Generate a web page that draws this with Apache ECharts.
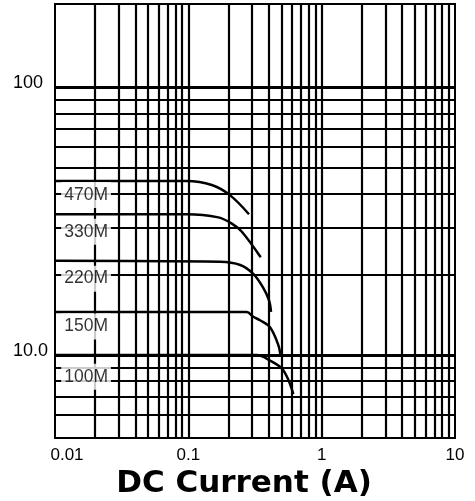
<!DOCTYPE html>
<html>
<head>
<meta charset="utf-8">
<script src="https://cdn.jsdelivr.net/npm/echarts@6/dist/echarts.min.js"></script>
<style>
  html, body { margin: 0; padding: 0; background: #fff; }
  #chart { width: 475px; height: 501px; }
</style>
</head>
<body>
<div id="chart"></div>
<script>
// inductance vs DC current curves, [current A, value]
const curve470M = [[0.01, 44.7], [0.097, 44.7], [0.15, 43.2], [0.205, 39.6], [0.285, 33.6]];
const curve330M = [[0.01, 33.6], [0.097, 33.6], [0.168, 32.7], [0.212, 31.0], [0.252, 28.9], [0.349, 23.2]];
const curve220M = [[0.01, 22.5], [0.173, 22.3], [0.245, 21.7], [0.307, 20.1], [0.363, 17.9], [0.403, 16.0], [0.417, 14.5]];
const curve150M = [[0.01, 14.5], [0.274, 14.5], [0.307, 13.9], [0.345, 13.5], [0.41, 12.7], [0.473, 10.9], [0.492, 9.9]];
const curve100M = [[0.01, 10], [0.326, 10], [0.41, 9.54], [0.502, 8.92], [0.563, 8.07], [0.613, 7.15]];

const curveNames = ["470M", "330M", "220M", "150M", "100M"];
const curves = [curve470M, curve330M, curve220M, curve150M, curve100M];

// where the part labels sit on the chart
const labelX = [0.0171, 0.0171, 0.0171, 0.0171, 0.0171];
const labelY = [39.6, 28.9, 19.3, 12.8, 8.3];

// log grid lines
const xGrid = [0.02, 0.03, 0.04, 0.05, 0.06, 0.07, 0.08, 0.09, 0.1,
  0.2, 0.3, 0.4, 0.5, 0.6, 0.7, 0.8, 0.9, 1,
  2, 3, 4, 5, 6, 7, 8, 9];
const yGrid = [6, 7, 8, 9, 10, 20, 30, 40, 50, 60, 70, 80, 90, 100];
const yMajor = [10, 100];

const near = (a, b) => Math.abs(a - b) < 1e-6 * b;
const FONT = "Liberation Sans";

const chart = echarts.init(document.getElementById("chart"));

const gridLines = [
  ...xGrid.map(v => ({ xAxis: v })),
  ...yGrid.map(v => ({
    yAxis: v,
    lineStyle: { width: yMajor.includes(v) ? 3 : 2.2 }
  }))
];

const option = {
  animation: false,
  grid: {
    left: 55, right: 20, top: 4, bottom: 63,
    outerBoundsMode: "none",
    containLabel: false,
    show: true, borderColor: "#000", borderWidth: 2
  },
  xAxis: {
    type: "log",
    min: 0.01,
    max: 10,
    name: "DC Current (A)",
    nameLocation: "middle",
    nameGap: 28,
    nameTextStyle: {
      fontFamily: "DejaVu Sans", fontWeight: "bold", fontSize: 31,
      color: "#000", padding: [0, 22, 0, 0]
    },
    axisLine: { lineStyle: { color: "#000", width: 2 } },
    axisTick: { show: false },
    splitLine: { show: false },
    axisLabel: {
      color: "#000", fontSize: 17, fontFamily: FONT, margin: 9,
      formatter: v => near(v, 0.01) ? "{a|0.01}" : String(+v.toPrecision(3)),
      rich: { a: { padding: [0, 0, 0, 24], fontSize: 17, fontFamily: FONT, color: "#000" } }
    }
  },
  yAxis: {
    type: "log",
    min: 4.9,
    max: 205,
    axisLine: { lineStyle: { color: "#000", width: 2 } },
    axisTick: { show: false },
    splitLine: { show: false },
    axisLabel: {
      color: "#000", fontSize: 18, fontFamily: FONT, margin: 7,
      formatter: v => near(v, 100) ? "{h|100}" : near(v, 10) ? "{t|10.0}" : "",
      rich: {
        h: { padding: [0, 5, 8, 0], fontSize: 18, fontFamily: FONT, color: "#000" },
        t: { padding: [0, 0, 8, 0], fontSize: 18, fontFamily: FONT, color: "#000" }
      }
    }
  },
  series: [
    {
      name: "grid",
      type: "line",
      data: [],
      silent: true,
      markLine: {
        silent: true,
        symbol: "none",
        label: { show: false },
        lineStyle: { color: "#000", type: "solid", width: 2.2 },
        data: gridLines
      }
    },
    ...curves.map((c, i) => ({
      name: curveNames[i],
      type: "line",
      data: c,
      smooth: 0.35,
      symbol: "none",
      lineStyle: { color: "#000", width: 2.5 },
      z: 3
    })),
    {
      name: "labels",
      type: "scatter",
      data: curveNames.map((n, i) => ({ name: n, value: [labelX[i], labelY[i]] })),
      symbolSize: 0,
      z: 5,
      label: {
        show: true,
        position: "inside",
        formatter: "{b}",
        color: "#000",
        fontSize: 17.5,
        fontFamily: FONT,
        backgroundColor: "#fff",
        padding: [4, 3]
      }
    }
  ]
};

chart.setOption(option);
</script>
</body>
</html>
